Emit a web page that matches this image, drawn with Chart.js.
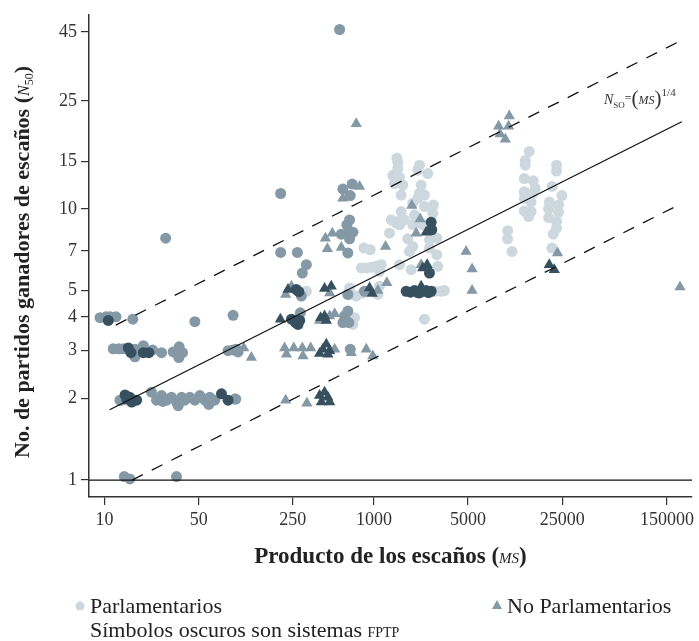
<!DOCTYPE html>
<html lang="es">
<head>
<meta charset="UTF-8">
<title>Partidos ganadores de escaños y producto de los escaños</title>
<style>
  body { margin: 0; background: #fff; }
  canvas { display: block; }
</style>
</head>
<body>
<canvas id="chart" width="699" height="641"></canvas>
<script src="https://cdn.jsdelivr.net/npm/chart.js@4.4.1/dist/chart.umd.min.js"></script>
<script>
// each point: [producto de los escaños (MS), partidos ganadores (N50)]
const lightCircles = [
  [842, 7.17], [939, 7.07], [805, 6.06], [877, 6.06], [955, 6.09], [1040, 6.14], [1133, 6.23],
  [1100, 5.89], [1548, 6.23], [1890, 5.97], [2977, 6.14],
  [315, 4.97], [659, 5.11], [679, 4.84], [739, 4.77], [827, 4.9], [1100, 5.19], [1069, 4.84],
  [718, 3.97], [698, 3.75], [2372, 3.92], [2814, 4.97], [3155, 4.97], [3338, 5.0],
  [1480, 15.4], [1504, 14.9], [1504, 14.1], [1381, 13.3], [1548, 13.1], [1421, 12.4], [1638, 12.25],
  [2178, 14.5], [2116, 13.9], [2510, 13.5], [2242, 12.25], [2178, 11.4], [2372, 11.25], [1594, 11.25],
  [1943, 10.5], [2766, 10.35], [1594, 9.78], [2000, 9.51], [2733, 9.64], [1344, 9.11], [1504, 8.98],
  [1687, 9.11], [1548, 8.74], [1305, 8.14], [1943, 8.74], [2304, 8.74], [2584, 7.7], [2927, 7.8],
  [1784, 7.76], [2584, 7.17], [1943, 7.27], [1836, 6.97], [2927, 6.78], [2116, 10.94], [2372, 10.2],
  [1463, 8.86],
  [14240, 16.3], [13300, 15.1], [13300, 14.5], [13070, 12.95], [15240, 12.7], [15780, 11.9],
  [13070, 11.57], [15070, 11.4], [13070, 10.94], [14660, 10.6], [13070, 9.83], [14660, 9.78],
  [14070, 9.37], [22690, 14.5], [22690, 13.8], [20970, 12.1], [24880, 11.2], [20040, 10.6],
  [23480, 10.35], [19800, 10.0], [23480, 9.72], [19800, 9.29], [22690, 8.98], [22690, 8.49],
  [21450, 8.07], [20970, 7.17], [9830, 8.31], [9830, 7.76], [10600, 6.97]
];
const mediumCircles = [
  [9.25, 3.97], [10.24, 4.0], [10.96, 4.0], [12.15, 4.0], [16.2, 3.92], [46.8, 3.84], [90, 4.05],
  [11.6, 3.05], [12.8, 3.05], [13.9, 3.05], [16.8, 3.04], [16.8, 2.85], [19.4, 3.13], [22.7, 3.02],
  [26.5, 2.95], [32.3, 2.97], [35.8, 3.1], [36.2, 2.95], [37.9, 2.95], [35.6, 2.83], [82.6, 3.0],
  [90, 3.02], [98, 2.97],
  [13.0, 1.97], [13.4, 1.97], [22.3, 2.11], [24.3, 1.97], [26.5, 2.05], [27.1, 1.95], [28.9, 1.97],
  [31.4, 2.02], [34.2, 1.94], [35.2, 1.88], [37.3, 2.02], [39.4, 1.97], [43, 2.02], [46.8, 1.97],
  [51, 2.05], [55.5, 1.97], [59.4, 1.9], [60.4, 2.02], [65.8, 1.97], [92.6, 1.99],
  [14.0, 1.03], [15.4, 1.01], [34.2, 1.03], [28.4, 7.8],
  [556, 45.9], [203, 11.4], [588, 11.84], [690, 12.35], [667, 11.2], [659, 9.11], [630, 8.74],
  [572, 8.07], [640, 8.14], [698, 8.21], [659, 7.76], [640, 6.88], [203, 6.91], [270, 6.91],
  [315, 6.23], [294, 5.8], [289, 4.77], [852, 4.97], [640, 4.84], [284, 4.14], [640, 4.2],
  [605, 4.03], [588, 3.81], [651, 3.81], [95.3, 3.04], [667, 3.04], [94.2, 1.99]
];
const darkCircles = [
  [10.65, 3.88], [15.0, 3.07], [15.7, 2.95], [19.4, 2.95], [21.3, 2.95],
  [14.2, 2.06], [14.6, 1.99], [15.4, 2.02], [15.9, 1.94], [17.3, 1.97], [73.8, 2.08], [82.6, 1.97],
  [265, 5.05], [277, 4.95], [244, 3.92], [262, 3.81], [281, 3.88], [273, 3.75],
  [2660, 8.93], [2687, 8.38], [2584, 5.8],
  [1736, 4.97], [1868, 4.93], [2000, 5.0], [2116, 4.91], [2178, 4.9], [2332, 4.97], [2442, 5.0],
  [2540, 4.91], [2660, 4.97]
];
const mediumTriangles = [
  [108, 3.07], [123, 2.83], [739, 20.6], [782, 12.1], [588, 10.94], [491, 8.14], [436, 7.8],
  [451, 7.13], [572, 7.21], [1219, 7.27], [1910, 10.3], [2204, 9.19], [2059, 8.14], [2242, 6.23],
  [1246, 5.34], [4833, 6.97], [5355, 6.0], [5355, 5.0], [10120, 22.0], [8433, 20.2], [10000, 20.2],
  [8637, 18.9], [9452, 18.06], [23080, 6.88], [187400, 5.15], [244, 5.19], [221, 4.84], [469, 4.9],
  [1069, 5.0], [395, 3.88], [469, 4.03], [511, 4.11],
  [217, 3.07], [254, 3.07], [294, 3.07], [339, 3.07], [224, 2.91], [297, 2.87], [511, 3.04],
  [679, 2.95], [877, 3.04], [981, 2.87], [221, 1.97], [318, 1.92]
];
const darkTriangles = [
  [2442, 8.21], [2304, 6.06], [2484, 6.23], [2242, 5.19], [230, 5.05], [430, 5.09], [482, 5.19],
  [928, 5.11], [971, 4.88], [202, 3.92], [402, 3.97], [430, 4.03], [443, 3.88],
  [418, 3.04], [443, 3.17], [469, 3.0], [395, 2.93], [455, 2.91],
  [395, 2.05], [430, 2.11], [455, 2.02], [407, 1.94], [469, 1.94],
  [20040, 6.23], [21820, 5.97]
];

const xTicks = [10, 50, 250, 1000, 5000, 25000, 150000];
const yTicks = [1, 2, 3, 4, 5, 7, 10, 15, 25, 45];
const xRange = [7.66, 230000];
const yRange = [0.866, 52];

// N = k * MS^(1/4): solid k=1, dashed k=2 and k=1/2
const fitStart = [10.9, 12.1, 16];
const fitFactor = [1, 2, 0.5];
const fitEnd = 193000;

const serif = "'Liberation Serif', 'DejaVu Serif', serif";
const light = '#cdd8de', medium = '#8499a5', dark = '#36505f';

const pts = arr => arr.map(p => ({ x: p[0], y: p[1] }));
const fit = i => [fitStart[i], fitEnd].map(x => ({ x: x, y: fitFactor[i] * Math.pow(x, 0.25) }));

function pointSet(arr, color, style, r, order) {
  return { data: pts(arr), backgroundColor: color, borderWidth: 0, pointStyle: style,
           pointRadius: r, pointHoverRadius: r, order: order };
}
function lineSet(data, dash) {
  return { data: data, showLine: true, borderColor: '#111', borderWidth: 1.3, borderDash: dash,
           pointRadius: 0, order: 0 };
}

function drawRuns(ctx, runs, x, y, center) {
  let w = 0;
  runs.forEach(r => { ctx.font = r.f; w += ctx.measureText(r.t).width; });
  let cx = center ? x - w / 2 : x;
  ctx.textAlign = 'left';
  runs.forEach(r => {
    ctx.font = r.f;
    ctx.fillText(r.t, cx, y + (r.dy || 0));
    cx += ctx.measureText(r.t).width;
  });
}

const textPlugin = {
  id: 'texts',
  afterDraw(chart) {
    const ctx = chart.ctx;
    const area = chart.chartArea;
    ctx.save();
    ctx.fillStyle = '#222';
    ctx.textBaseline = 'alphabetic';

    // x title
    drawRuns(ctx, [
      { t: 'Producto de los escaños (', f: 'bold 23px ' + serif },
      { t: 'MS', f: 'italic 15px ' + serif },
      { t: ')', f: 'bold 23px ' + serif }
    ], (area.left + area.right) / 2, 563, true);

    // y title
    ctx.save();
    ctx.translate(29, 262);
    ctx.rotate(-Math.PI / 2);
    drawRuns(ctx, [
      { t: 'No. de partidos ganadores de escaños (', f: 'bold 22px ' + serif },
      { t: 'N', f: 'italic 16px ' + serif },
      { t: '50', f: '12px ' + serif, dy: 4 },
      { t: ')', f: 'bold 22px ' + serif }
    ], 0, 0, true);
    ctx.restore();

    // formula label
    ctx.fillStyle = '#333';
    drawRuns(ctx, [
      { t: 'N', f: 'italic 14px ' + serif },
      { t: 'SO', f: '9px ' + serif, dy: 4 },
      { t: '=', f: '12px ' + serif, dy: -2 },
      { t: '(', f: '21px ' + serif, dy: 1 },
      { t: 'MS', f: 'italic 12px ' + serif },
      { t: ')', f: '21px ' + serif, dy: 1 },
      { t: '1/4', f: '11px ' + serif, dy: -8 }
    ], 604, 104, false);

    // legend
    ctx.fillStyle = '#222';
    ctx.font = '22px ' + serif;
    ctx.fillText('Parlamentarios', 90, 613);
    ctx.fillText('No Parlamentarios', 507, 613);
    drawRuns(ctx, [
      { t: 'Símbolos oscuros son sistemas ', f: '22px ' + serif },
      { t: 'FPTP', f: '14px ' + serif }
    ], 90, 637, false);

    ctx.fillStyle = light;
    ctx.beginPath();
    ctx.arc(80, 606, 4.5, 0, Math.PI * 2);
    ctx.fill();
    ctx.fillStyle = medium;
    ctx.beginPath();
    ctx.moveTo(497, 600);
    ctx.lineTo(502, 609);
    ctx.lineTo(492, 609);
    ctx.closePath();
    ctx.fill();
    ctx.restore();
  }
};

function axis(range, ticks, fit) {
  return {
    type: 'logarithmic',
    min: range[0],
    max: range[1],
    afterBuildTicks: s => { s.ticks = ticks.map(v => ({ value: v })); },
    afterFit: fit,
    ticks: {
      autoSkip: false, maxRotation: 0, padding: 4, color: '#333',
      font: { family: serif, size: 18 },
      callback: v => String(v)
    },
    grid: { drawOnChartArea: false, drawTicks: true, tickLength: 8, color: '#333', lineWidth: 1.2 },
    border: { display: true, color: '#333', width: 1.5 }
  };
}

new Chart(document.getElementById('chart'), {
  type: 'scatter',
  data: {
    datasets: [
      lineSet(fit(0), []),
      lineSet(fit(1), [12, 10]),
      lineSet(fit(2), [12, 10]),
      lineSet([{ x: xRange[0], y: 1 }, { x: xRange[1], y: 1 }], []),
      pointSet(darkTriangles, dark, 'triangle', 6.5, 1),
      pointSet(darkCircles, dark, 'circle', 5.5, 2),
      pointSet(mediumTriangles, medium, 'triangle', 6.5, 3),
      pointSet(mediumCircles, medium, 'circle', 5.5, 4),
      pointSet(lightCircles, light, 'circle', 5.5, 5)
    ]
  },
  options: {
    responsive: false,
    animation: false,
    layout: { padding: { top: 12, right: 7, bottom: 90, left: 0 } },
    plugins: { legend: { display: false }, tooltip: { enabled: false } },
    scales: {
      x: axis(xRange, xTicks, s => { s.height = 54; }),
      y: axis(yRange, yTicks, s => { s.width = 89; })
    }
  },
  plugins: [textPlugin]
});
</script>
</body>
</html>
